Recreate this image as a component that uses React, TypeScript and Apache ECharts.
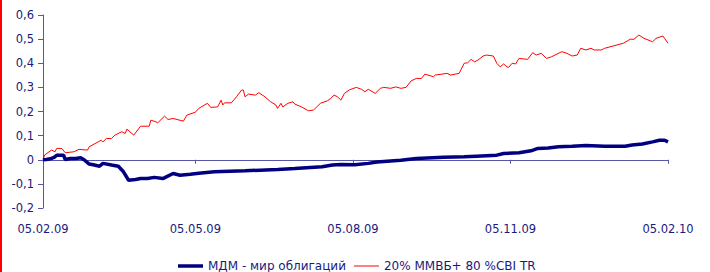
import React, { useEffect, useRef } from "react";
import * as echarts from "echarts";

// x tick labels shown on the axis
const tickLabels = ["05.02.09", "05.05.09", "05.08.09", "05.11.09", "05.02.10"];
const yTicks = { min: -0.2, max: 0.6, step: 0.1 };

// daily categories 05.02.09 .. 05.02.10
const startUTC = Date.UTC(2009, 1, 5);
const endUTC = Date.UTC(2010, 1, 5);
const categories: string[] = [];
for (let t = startUTC; t <= endUTC; t += 86400000) {
  const d = new Date(t);
  const dd = String(d.getUTCDate()).padStart(2, "0");
  const mm = String(d.getUTCMonth() + 1).padStart(2, "0");
  const yy = String(d.getUTCFullYear() % 100).padStart(2, "0");
  categories.push(`${dd}.${mm}.${yy}`);
}

const seriesNames = ["МДМ - мир облигаций", "20% ММВБ+ 80 %CBI TR"];

// [day index, value]
const fundPoints: [number, number][] = [
  [0, 0], [2, 0.001], [5, 0.005], [7, 0.012], [8, 0.019], [12, 0.019], [13, 0.001],
  [16, 0.005], [19, 0.005], [22, 0.008], [24, 0], [27, -0.018], [30, -0.022],
  [33, -0.027], [35, -0.015], [40, -0.022], [44, -0.027], [47, -0.05], [50, -0.085],
  [54, -0.082], [57, -0.078], [61, -0.078], [65, -0.073], [70, -0.078], [72, -0.071],
  [76, -0.057], [80, -0.064], [86, -0.06], [91, -0.056], [100, -0.05], [118, -0.046],
  [137, -0.04], [147, -0.036], [163, -0.029], [169, -0.022], [174, -0.02], [182, -0.021],
  [190, -0.015], [195, -0.009], [209, -0.002], [218, 0.005], [234, 0.01], [246, 0.012],
  [253, 0.015], [265, 0.019], [269, 0.026], [278, 0.029], [285, 0.037], [289, 0.047],
  [295, 0.049], [301, 0.054], [309, 0.056], [317, 0.059], [328, 0.056], [340, 0.056],
  [344, 0.061], [350, 0.065], [356, 0.074], [360, 0.081], [363, 0.081], [365, 0.074],
];

const indexPoints: [number, number][] = [
  [0, 0], [1, 0.02], [5, 0.04], [7, 0.033], [8, 0.047], [11, 0.047], [13, 0.029],
  [18, 0.033], [21, 0.043], [26, 0.04], [27, 0.054], [34, 0.081], [35, 0.074],
  [37, 0.088], [40, 0.088], [42, 0.102], [46, 0.116], [48, 0.109], [49, 0.127],
  [53, 0.102], [57, 0.139], [62, 0.139], [63, 0.164], [66, 0.157], [67, 0.153],
  [71, 0.181], [73, 0.167], [76, 0.171], [82, 0.16], [84, 0.185], [89, 0.197],
  [91, 0.213], [96, 0.234], [98, 0.217], [102, 0.219], [104, 0.247], [105, 0.227],
  [106, 0.236], [110, 0.236], [113, 0.261], [116, 0.289], [117, 0.289], [118, 0.261],
  [120, 0.272], [124, 0.268], [126, 0.278], [129, 0.264], [133, 0.24], [136, 0.227],
  [137, 0.213], [139, 0.234], [140, 0.219], [143, 0.234], [146, 0.24], [147, 0.231],
  [151, 0.219], [155, 0.203], [158, 0.206], [162, 0.234], [166, 0.244], [168, 0.254],
  [170, 0.268], [172, 0.261], [174, 0.247], [176, 0.275], [179, 0.29], [183, 0.3],
  [186, 0.292], [188, 0.282], [190, 0.292], [194, 0.275], [197, 0.296], [199, 0.3],
  [203, 0.296], [206, 0.302], [209, 0.296], [212, 0.3], [215, 0.327], [218, 0.337],
  [221, 0.337], [223, 0.355], [228, 0.344], [229, 0.351], [236, 0.358], [238, 0.351],
  [243, 0.358], [246, 0.4], [248, 0.402], [250, 0.416], [252, 0.406], [254, 0.413],
  [257, 0.43], [259, 0.434], [263, 0.43], [265, 0.4], [267, 0.385], [269, 0.397],
  [271, 0.385], [272, 0.383], [274, 0.4], [276, 0.397], [278, 0.42], [283, 0.416],
  [286, 0.444], [288, 0.434], [291, 0.441], [294, 0.42], [297, 0.427], [299, 0.434],
  [303, 0.448], [306, 0.441], [309, 0.43], [312, 0.434], [314, 0.462], [317, 0.455],
  [320, 0.462], [322, 0.455], [326, 0.455], [328, 0.462], [339, 0.483], [343, 0.5],
  [345, 0.499], [348, 0.517], [351, 0.503], [356, 0.489], [358, 0.503], [362, 0.513],
  [363, 0.503], [365, 0.483],
];

const NAVY = "#1a1a7e";
const AXIS = "#5656a8";
const FONT = "DejaVu Sans";

export default function App() {
  const ref = useRef<HTMLDivElement>(null);
  useEffect(() => {
    if (!ref.current) return;
    const chart = echarts.init(ref.current, null, { renderer: "svg" });
    const showTick = (_i: number, v: string) => tickLabels.includes(v);
    chart.setOption({
      animation: false,
      backgroundColor: "#ffffff",
      grid: { left: 43, right: 42, top: 15, bottom: 64, containLabel: false },
      graphic: [
        { type: "rect", left: 0, top: 0, shape: { x: 0, y: 0, width: 2, height: 272 }, style: { fill: "#ff0000" } },
      ],
      xAxis: [
        {
          type: "category",
          data: categories,
          boundaryGap: false,
          position: "bottom",
          axisLine: { show: false, onZero: false },
          axisTick: { show: false },
          splitLine: { show: false },
          axisLabel: {
            interval: showTick,
            margin: 15,
            color: NAVY,
            fontFamily: FONT,
            fontSize: 11.5,
          },
        },
        {
          type: "category",
          data: categories,
          boundaryGap: false,
          position: "bottom",
          axisLine: { show: true, onZero: true, lineStyle: { color: AXIS, width: 1 } },
          axisTick: { show: true, interval: showTick, length: 4, lineStyle: { color: AXIS } },
          axisLabel: { show: false },
          splitLine: { show: false },
        },
      ],
      yAxis: {
        type: "value",
        min: yTicks.min,
        max: yTicks.max,
        interval: yTicks.step,
        axisLine: { show: true, lineStyle: { color: AXIS, width: 1 } },
        axisTick: { show: true, length: 5, lineStyle: { color: AXIS } },
        splitLine: { show: false },
        axisLabel: {
          color: NAVY,
          fontFamily: FONT,
          fontSize: 11.5,
          margin: 9,
          formatter: (v: number) => (Math.abs(v) < 1e-9 ? "0" : v.toFixed(1).replace(".", ",")),
        },
      },
      legend: {
        bottom: 0,
        left: 178,
        padding: [0, 0],
        itemWidth: 25,
        itemHeight: 10,
        itemGap: 8,
        textStyle: { color: NAVY, fontFamily: FONT, fontSize: 12 },
        data: [
          { name: seriesNames[0], icon: "path://M0,0H25V3.5H0Z", itemStyle: { color: "#000080", borderWidth: 0 } },
          { name: seriesNames[1], icon: "path://M0,0H25V1H0Z", itemStyle: { color: "#ff0000", borderWidth: 0 } },
        ],
      },
      series: [
        {
          name: seriesNames[0],
          type: "line",
          xAxisIndex: 0,
          data: fundPoints,
          symbol: "none",
          lineStyle: { color: "#000080", width: 3.5 },
          itemStyle: { color: "#000080" },
          z: 3,
        },
        {
          name: seriesNames[1],
          type: "line",
          xAxisIndex: 0,
          data: indexPoints,
          symbol: "none",
          lineStyle: { color: "#ff0000", width: 1 },
          itemStyle: { color: "#ff0000" },
          z: 2,
        },
      ],
    });
    return () => chart.dispose();
  }, []);
  return (
    <div
      ref={ref}
      style={{ position: "fixed", left: 0, top: 0, width: 710, height: 272, background: "#fff" }}
    />
  );
}
